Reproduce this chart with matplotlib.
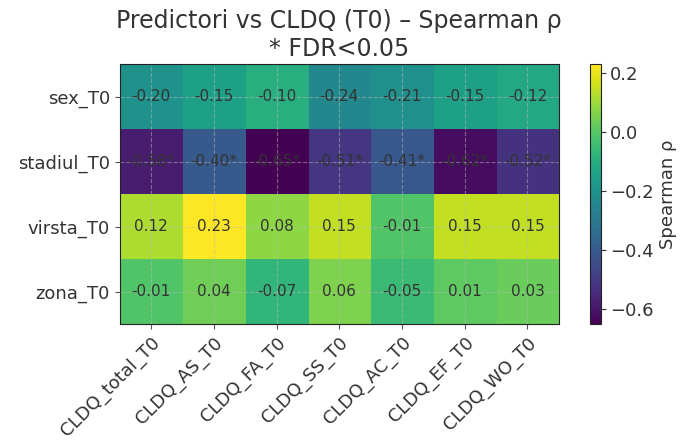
import matplotlib
matplotlib.use("Agg")
import matplotlib.pyplot as plt
import numpy as np

predictors = ["sex_T0", "stadiul_T0", "virsta_T0", "zona_T0"]
outcomes = ["CLDQ_total_T0", "CLDQ_AS_T0", "CLDQ_FA_T0", "CLDQ_SS_T0",
            "CLDQ_AC_T0", "CLDQ_EF_T0", "CLDQ_WO_T0"]

rho_sex = [-0.20, -0.15, -0.10, -0.24, -0.21, -0.15, -0.12]
rho_stadiul = [-0.58, -0.40, -0.65, -0.51, -0.41, -0.62, -0.52]
rho_virsta = [0.12, 0.23, 0.08, 0.15, -0.01, 0.15, 0.15]
rho_zona = [-0.01, 0.04, -0.07, 0.06, -0.05, 0.01, 0.03]

sig_sex = [False] * 7
sig_stadiul = [True] * 7
sig_virsta = [False] * 7
sig_zona = [False] * 7

rho = np.array([rho_sex, rho_stadiul, rho_virsta, rho_zona])
sig = np.array([sig_sex, sig_stadiul, sig_virsta, sig_zona])

plt.rcParams["text.color"] = "#333333"
plt.rcParams["xtick.color"] = "#333333"
plt.rcParams["ytick.color"] = "#333333"
plt.rcParams["axes.labelcolor"] = "#333333"
plt.rcParams["axes.edgecolor"] = "#222222"

fig = plt.figure(figsize=(6.84, 4.44), dpi=100)
ax = fig.add_axes([0.175, 0.27, 0.642, 0.585])
cax = fig.add_axes([0.862, 0.27, 0.016, 0.585])

im = ax.imshow(rho, cmap="viridis", aspect="auto")

for i in range(rho.shape[0]):
    for j in range(rho.shape[1]):
        txt = f"{rho[i, j]:.2f}" + ("*" if sig[i, j] else "")
        ax.text(j, i, txt, ha="center", va="center", fontsize=11, color="#333333")

ax.set_xticks(range(len(outcomes)))
ax.set_xticklabels(outcomes, rotation=45, ha="right", rotation_mode="anchor", fontsize=13)
ax.set_yticks(range(len(predictors)))
ax.set_yticklabels(predictors, fontsize=13)
ax.tick_params(color="#555555")
ax.grid(True, color="#bbbbbb", linestyle="--", linewidth=0.8, alpha=0.5)
ax.set_title("Predictori vs CLDQ (T0) – Spearman ρ\n* FDR<0.05", fontsize=17)

cb = fig.colorbar(im, cax=cax)
cb.set_label("Spearman ρ", fontsize=13)
cb.ax.tick_params(labelsize=13)

fig.savefig("out.png", dpi=100)
